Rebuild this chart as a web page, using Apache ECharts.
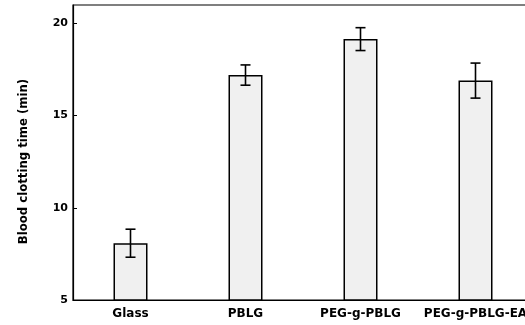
<!DOCTYPE html>
<html>
<head>
<meta charset="utf-8">
<script src="https://cdn.jsdelivr.net/npm/echarts@6/dist/echarts.min.js"></script>
<style>
  html, body { margin: 0; padding: 0; background: #fff; }
  #main { width: 525px; height: 325px; }
</style>
</head>
<body>
<div id="main"></div>
<script>
// data
const categories = ["Glass", "PBLG", "PEG-g-PBLG", "PEG-g-PBLG-EA"];
const clotTime = [8.08, 17.2, 19.15, 16.9];
const clotErr = [0.76, 0.55, 0.62, 0.95];
const yTicks = [5, 10, 15, 20];

const errData = clotTime.map((v, i) => [i, v - clotErr[i], v + clotErr[i]]);

const chart = echarts.init(document.getElementById("main"));

const option = {
  animation: false,
  grid: {
    left: 73,
    top: 5,
    bottom: 25,
    width: 460,
    outerBoundsMode: "none",
    show: true,
    borderColor: "#000",
    borderWidth: 1.2,
  },
  xAxis: {
    type: "category",
    data: categories,
    axisLine: { lineStyle: { color: "#000", width: 1.2 } },
    axisTick: { inside: true, alignWithLabel: true, length: 3, lineStyle: { color: "#000" } },
    axisLabel: {
      color: "#000",
      fontFamily: "DejaVu Sans",
      fontWeight: "bold",
      fontSize: 12,
      margin: 8,
      interval: 0,
      hideOverlap: false,
    },
  },
  yAxis: {
    type: "value",
    min: 5,
    max: 21,
    name: "Blood clotting time (min)",
    nameLocation: "middle",
    nameGap: 43,
    nameTextStyle: {
      color: "#000",
      fontFamily: "DejaVu Sans Condensed",
      fontWeight: "bold",
      fontSize: 13,
      padding: [0, 18, 0, 0],
    },
    splitLine: { show: false },
    axisLine: { show: true, lineStyle: { color: "#000", width: 1.2 } },
    axisTick: { show: true, inside: true, length: 4, customValues: yTicks, lineStyle: { color: "#000" } },
    axisLabel: {
      customValues: yTicks,
      color: "#000",
      fontFamily: "DejaVu Sans",
      fontWeight: "bold",
      fontSize: 11,
      margin: 5,
    },
  },
  series: [
    {
      type: "bar",
      data: clotTime,
      barWidth: 34,
      itemStyle: {
        color: "#f0f0f0",
        borderColor: "#000",
        borderWidth: 1.5,
      },
    },
    {
      type: "custom",
      data: errData,
      z: 10,
      renderItem: function (params, api) {
        const lo = api.coord([api.value(0), api.value(1)]);
        const hi = api.coord([api.value(0), api.value(2)]);
        const cap = 5;
        const style = { stroke: "#000", lineWidth: 1.6 };
        return {
          type: "group",
          children: [
            { type: "line", shape: { x1: hi[0], y1: hi[1], x2: lo[0], y2: lo[1] }, style: style },
            { type: "line", shape: { x1: hi[0] - cap, y1: hi[1], x2: hi[0] + cap, y2: hi[1] }, style: style },
            { type: "line", shape: { x1: lo[0] - cap, y1: lo[1], x2: lo[0] + cap, y2: lo[1] }, style: style },
          ],
        };
      },
    },
  ],
};

chart.setOption(option);
</script>
</body>
</html>
